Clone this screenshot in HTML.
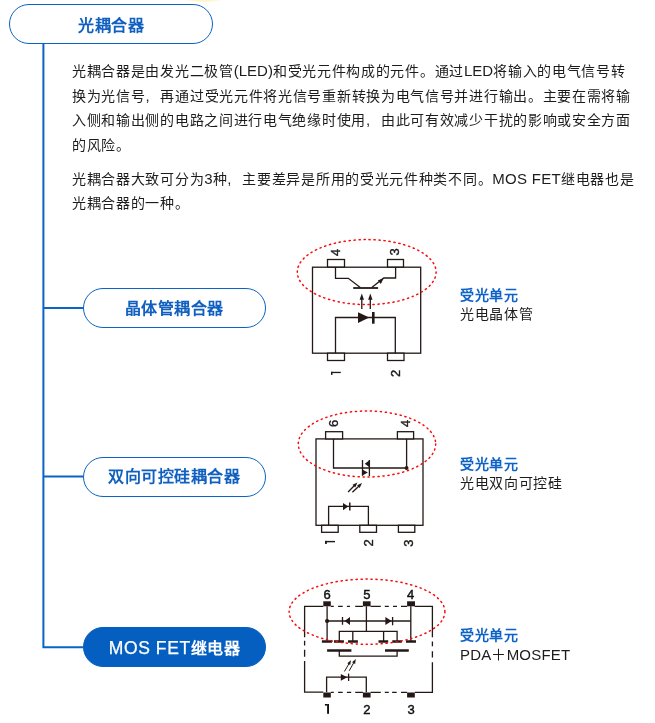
<!DOCTYPE html>
<html lang="zh-CN">
<head>
<meta charset="utf-8">
<style>
html,body{margin:0;padding:0;background:#fff;}
body{width:655px;height:723px;position:relative;overflow:hidden;will-change:transform;font-family:"Liberation Sans",sans-serif;color:#222;}
.pill{position:absolute;box-sizing:border-box;border:1.2px solid #0a63c6;border-radius:20px;background:#fff;color:#1160c0;font-weight:bold;font-size:16px;text-align:center;line-height:38px;letter-spacing:0.5px;white-space:nowrap;}
.pill.fill{background:#045fc1;border-color:#045fc1;color:#fff;}
.t{position:absolute;left:72px;font-size:14px;letter-spacing:0.70px;line-height:24px;white-space:nowrap;color:#1c1c1c;}
.lab{position:absolute;left:460px;font-size:14px;letter-spacing:0.66px;line-height:20px;white-space:nowrap;color:#1c1c1c;}
.lab b{color:#0d62c8;}
svg{position:absolute;left:0;top:0;}
.lt{font-size:15px;letter-spacing:0px;}
.cm{margin-right:10.1px;font-size:15px;}
</style>
</head>
<body>
<div style="position:absolute;left:183px;top:-7px;width:42px;height:8.5px;border-radius:50%;background:radial-gradient(ellipse at center,#fbf0a0 0%,#fdf6c8 50%,rgba(255,255,255,0) 100%);"></div>
<div class="pill" style="left:9px;top:4px;width:204px;height:40px;padding-top:1.5px;">光耦合器</div>

<div class="t" style="top:59.4px;">光耦合器是由发光二极管<span class="lt">(LED)</span>和受光元件构成的元件。通过<span class="lt">LED</span>将输入的电气信号转</div>
<div class="t" style="top:83.7px;">换为光信号<span class="cm">,</span>再通过受光元件将光信号重新转换为电气信号并进行输出。主要在需将输</div>
<div class="t" style="top:108.2px;">入侧和输出侧的电路之间进行电气绝缘时使用<span class="cm">,</span>由此可有效减少干扰的影响或安全方面</div>
<div class="t" style="top:132.7px;">的风险。</div>
<div class="t" style="top:167px;">光耦合器大致可分为<span class="lt">3</span>种<span class="cm">,</span>主要差异是所用的受光元件种类不同。<span class="lt" style="letter-spacing:0.3px">MOS FET</span>继电器也是</div>
<div class="t" style="top:191.3px;">光耦合器的一种。</div>

<div class="pill" style="left:82.6px;top:288px;width:183px;height:40px;padding-top:0.5px;">晶体管耦合器</div>
<div class="pill" style="left:82.6px;top:456.5px;width:183px;height:40px;padding-top:0.5px;">双向可控硅耦合器</div>
<div class="pill fill" style="left:83px;top:627px;width:183px;height:40px;padding-top:1px;"><span style="font-weight:normal;font-size:17.5px;letter-spacing:0.6px;-webkit-text-stroke:0.25px #fff">MOS FET</span>继电器</div>

<div class="lab" style="top:285.1px;"><b>受光单元</b></div>
<div class="lab" style="top:304.4px;">光电晶体管</div>
<div class="lab" style="top:454.0px;"><b>受光单元</b></div>
<div class="lab" style="top:473.4px;">光电双向可控硅</div>
<div class="lab" style="top:625.0px;"><b>受光单元</b></div>
<div class="lab" style="top:645.2px;font-size:15px;letter-spacing:0.2px;">PDA＋MOSFET</div>

<svg width="655" height="723" viewBox="0 0 655 723">
<path d="M43.4 44V648.3M43.4 307.9H83M43.4 476.6H83M42.4 647.3H83.5" stroke="#0a63c6" stroke-width="2" fill="none"/>
<g fill="none" stroke="#231815" stroke-width="1.3">
<!-- diagram 1 -->
<rect x="312.5" y="267.2" width="108.2" height="86"/>
<rect x="327.5" y="259.5" width="17" height="7.5" fill="#fff"/>
<rect x="387.5" y="259.5" width="16" height="7.5" fill="#fff"/>
<rect x="327.5" y="353.2" width="17" height="7.3" fill="#fff"/>
<rect x="387.5" y="353.2" width="16.5" height="7.3" fill="#fff"/>
<path d="M335.5 267.2V278.3H348.3L360.3 287.4"/>
<path d="M371.8 287.4L383.8 278H395.6V267.2"/>
<path d="M353.2 288H378.1" stroke-width="1.8"/>
<path d="M335.5 353.2V317.5H395.3V353.2"/>
<path d="M373.3 312V323.7" stroke-width="2.6"/>
<path d="M361.8 309V297M370.3 309V297"/>
</g>
<g fill="#231815" stroke="none">
<path d="M358 312.2L358 323.1L369.2 317.6Z"/>
<path d="M383.8 278L377.8 280.6L380.8 284Z"/>
<path d="M361.8 293.5L359.6 299.8H364Z"/>
<path d="M370.3 293.5L368.1 299.8H372.5Z"/>
</g>
<ellipse cx="366.7" cy="272.1" rx="69.4" ry="32.5" fill="none" stroke="#fb0a0a" stroke-width="1.5" stroke-dasharray="1.2 3.8" stroke-linecap="round"/>
<g font-family="Liberation Sans" font-size="13" fill="#1a1a1a" stroke="#1a1a1a" stroke-width="0.4">
<text transform="translate(339.8 256) rotate(-90)">4</text>
<text transform="translate(398.9 255.5) rotate(-90)">3</text>
<text transform="translate(400 377) rotate(-90)">2</text>
</g>

<g fill="#1a1a1a"><rect x="331" y="371.8" width="9.8" height="1.3"/><rect x="331" y="371.8" width="1.5" height="3.1"/><rect x="325" y="540.9" width="10" height="1.4"/><rect x="325" y="540.9" width="1.9" height="3"/></g>
<!-- diagram 2 -->
<g fill="none" stroke="#231815" stroke-width="1.3">
<rect x="316" y="438.9" width="107" height="86.4"/>
<rect x="325.6" y="431.7" width="17" height="7.2" fill="#fff"/>
<rect x="397.4" y="431.7" width="16.2" height="7.2" fill="#fff"/>
<rect x="321.6" y="525.3" width="16.6" height="7" fill="#fff"/>
<rect x="359.8" y="525.3" width="16.7" height="7" fill="#fff"/>
<rect x="398.4" y="525.3" width="16.4" height="7" fill="#fff"/>
<path d="M333.5 438.9V468H406.6V438.9"/>
<path d="M362.5 460V475.8M369.4 460V476"/>
<path d="M328.6 525.3V506.3H368.4V525.3"/>
<path d="M349.8 502.4V510.5" stroke-width="1.5"/>
<path d="M348.1 492.0L354.2 485.8M352.4 492.3L358.8 486.2"/>
</g>
<g fill="#231815" stroke="none">
<circle cx="406.6" cy="468" r="1.9"/>
<path d="M369.4 460.3V467.2L364.8 463.8Z"/>
<path d="M362.3 469.5V475.6L367.9 472.5Z"/>
<path d="M343 503V510.2L348.3 506.6Z"/>
<path d="M357.4 482.6L355.2 487.5L352.5 484.8Z"/>
<path d="M362.0 483.1L359.7 487.9L357.1 485.2Z"/>
</g>
<ellipse cx="367" cy="444" rx="68.7" ry="33" fill="none" stroke="#fb0a0a" stroke-width="1.5" stroke-dasharray="1.2 3.8" stroke-linecap="round"/>
<g font-family="Liberation Sans" font-size="13" fill="#1a1a1a" stroke="#1a1a1a" stroke-width="0.4">
<text transform="translate(338.3 427) rotate(-90)">6</text>
<text transform="translate(410 427) rotate(-90)">4</text>
<text transform="translate(373 546.5) rotate(-90)">2</text>
<text transform="translate(412.5 546.8) rotate(-90)">3</text>
</g>

<!-- diagram 3 -->
<g fill="none" stroke="#231815" stroke-width="1.3">
<path d="M323.3 606.3H304.6V637.3M304.6 640.8V645.6M304.6 649.8V656.7M304.6 660.9V692.2H323.3"/>
<path d="M414.8 606.3H432.4V637.3M432.4 641.5V646.3M432.4 651.2V657.4M432.4 662.2V692.4H414.8"/>
<path d="M330.8 606.3H333.8M338.1 606.3H342.7M346.9 606.3H350M355.2 606.3H362.9M370.6 606.3H380.8M384.8 606.3H388.8M393 606.3H397M401 606.3H407.1"/>
<path d="M330.8 692.4H333.8M338.1 692.4H342.7M346.9 692.4H351.2M355.2 692.4H362.9M370.6 692.4H380.8M384.8 692.4H388.8M392.1 692.4H396.7M401 692.4H407.1"/>
<path d="M327.1 606.3V641M410.8 606.3V641M366.4 606.3V631.3"/>
<path d="M327.1 621H410.8"/>
<path d="M339.3 641V631.3H397.1V641M352.8 631.3V641M383.6 631.3V641"/>
<path d="M339.3 651V656.2H397.1V651"/>
<path d="M342.5 617V624.7M392.6 617V625.3" stroke-width="1.3"/>
<path d="M321.9 641.5H332M334 641.5H343.9M348 641.5H357.9M378.5 641.5H388.2M392.3 641.5H401.9M406 641.5H416" stroke-width="2.5"/>
<path d="M327.1 650.5H351.4M385 650.5H408.8" stroke-width="2.4"/>
<path d="M326.6 692.2V677.2H366.3V692.2"/>
<path d="M348.6 673.6V681" stroke-width="1.3"/>
<path d="M344.4 671.5L349.0 663.7M349.2 670.8L353.8 662.6" stroke-width="1"/>
</g>
<g fill="#231815" stroke="none">
<rect x="323.3" y="601.3" width="7.5" height="5"/>
<rect x="362.9" y="601.3" width="7.7" height="5"/>
<rect x="407.1" y="601.3" width="7.9" height="5"/>
<rect x="323.3" y="692.5" width="7.5" height="5"/>
<rect x="362.9" y="692.5" width="7.7" height="5"/>
<rect x="407.1" y="692.5" width="7.7" height="5"/>
<circle cx="327.1" cy="621" r="2.1"/>
<path d="M344.6 621L350 617V625Z"/>
<path d="M391.6 621L385.4 617V625Z"/>
<path d="M340.8 673.9V680.8L347.2 677.3Z"/>
<path d="M351.0 660.3L350.2 665.0L347.3 663.3Z"/>
<path d="M355.8 659.1L355.1 663.9L352.1 662.2Z"/>
</g>
<ellipse cx="367" cy="611.7" rx="77.9" ry="32.6" fill="none" stroke="#fb0a0a" stroke-width="1.5" stroke-dasharray="1.2 3.8" stroke-linecap="round"/>
<g font-family="Liberation Sans" font-size="13" fill="#111" stroke="#111" stroke-width="0.45" text-anchor="middle">
<text x="327" y="598.6">6</text>
<text x="366.8" y="598.6">5</text>
<text x="410.5" y="598.6">4</text>
<text x="366.8" y="713.7">2</text>
<text x="411" y="713.7">3</text>
</g>
<g fill="#111"><rect x="327.1" y="704" width="1.9" height="9.8"/><rect x="324.9" y="704" width="2.2" height="1.6"/></g>
</svg>
</body>
</html>
